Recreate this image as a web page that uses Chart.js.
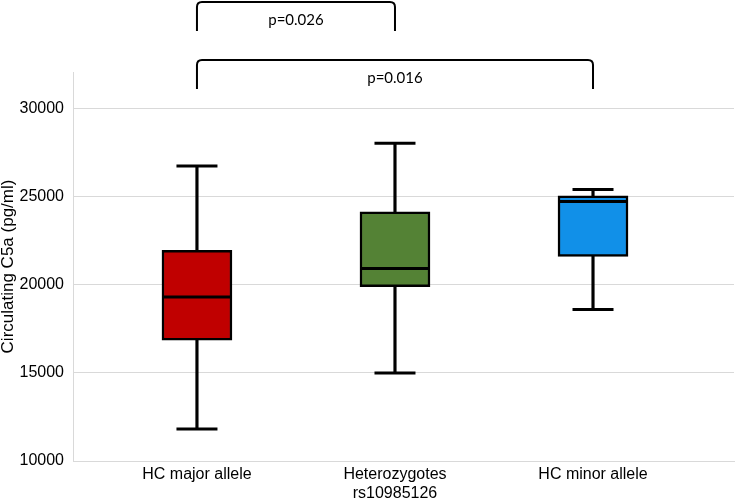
<!DOCTYPE html>
<html>
<head>
<meta charset="utf-8">
<script src="https://cdn.jsdelivr.net/npm/chart.js@4/dist/chart.umd.min.js"></script>
<style>
  body { margin: 0; background: #fff; }
</style>
</head>
<body>
<canvas id="myChart" width="735" height="502"></canvas>
<script>
const categories = ['HC major allele', ['Heterozygotes', 'rs10985126'], 'HC minor allele'];
const minVals = [11820, 15000, 18600];
const q1Vals = [16860, 19900, 21620];
const medianVals = [19320, 20940, 24740];
const q3Vals = [21970, 24160, 25070];
const maxVals = [26760, 28050, 25430];
const boxColors = ['#C00000', '#548235', '#1190E8'];
const yTicks = [10000, 15000, 20000, 25000, 30000];
// comparisons: [from, to, label]
const pairs = [[0, 1, 'p=0.026'], [0, 2, 'p=0.016']];

const font = "'Liberation Sans', Arial, sans-serif";

// brackets above the boxes
const bracketPlugin = {
  id: 'brackets',
  afterDraw(chart) {
    const ctx = chart.ctx;
    const xs = chart.scales.x;
    const top = chart.chartArea.top;
    const tops = [top - 70, top - 12];
    const legs = 29;
    const r = 5;
    ctx.save();
    ctx.strokeStyle = '#000';
    ctx.lineWidth = 2;
    ctx.font = "15px Lato, 'Open Sans', sans-serif";
    ctx.fillStyle = '#000';
    ctx.textAlign = 'center';
    ctx.textBaseline = 'middle';
    pairs.forEach((p, i) => {
      const x1 = xs.getPixelForValue(p[0]);
      const x2 = xs.getPixelForValue(p[1]);
      const y = tops[i];
      ctx.beginPath();
      ctx.moveTo(x1, y + legs);
      ctx.lineTo(x1, y + r);
      ctx.quadraticCurveTo(x1, y, x1 + r, y);
      ctx.lineTo(x2 - r, y);
      ctx.quadraticCurveTo(x2, y, x2, y + r);
      ctx.lineTo(x2, y + legs);
      ctx.stroke();
      ctx.fillText(p[2], (x1 + x2) / 2, y + 18);
    });
    ctx.restore();
  }
};

const ctx = document.getElementById('myChart');

new Chart(ctx, {
  type: 'bar',
  data: {
    datasets: [
      {
        type: 'scatter',
        order: 0,
        data: medianVals.map((v, i) => ({ x: i, y: v })),
        pointStyle: 'line',
        radius: 34,
        borderWidth: 3,
        borderColor: '#000'
      },
      {
        type: 'scatter',
        order: 1,
        data: minVals.map((v, i) => ({ x: i, y: v })).concat(maxVals.map((v, i) => ({ x: i, y: v }))),
        pointStyle: 'line',
        radius: 20.5,
        borderWidth: 3,
        borderColor: '#000'
      },
      {
        order: 2,
        grouped: false,
        data: q1Vals.map((v, i) => ({ x: i, y: [v, q3Vals[i]] })),
        backgroundColor: boxColors,
        borderColor: '#000',
        borderWidth: 2.5,
        borderSkipped: false,
        barThickness: 70
      },
      {
        order: 3,
        grouped: false,
        data: minVals.map((v, i) => ({ x: i, y: [v, maxVals[i]] })),
        backgroundColor: '#000',
        borderWidth: 0,
        barThickness: 2.5
      }
    ]
  },
  options: {
    responsive: false,
    animation: false,
    layout: { autoPadding: false, padding: { top: 72, right: 1, left: 0, bottom: 0 } },
    plugins: {
      legend: { display: false },
      tooltip: { enabled: false }
    },
    scales: {
      x: {
        type: 'linear',
        offset: false,
        min: -0.626,
        max: 2.712,
        afterBuildTicks: (scale) => { scale.ticks = categories.map((c, i) => ({ value: i })); },
        afterFit: (scale) => {
          scale.height = 41;
          scale.paddingLeft = 0;
          scale.paddingRight = 0;
        },
        ticks: {
          callback: (v) => categories[v],
          color: '#000',
          font: { family: font, size: 16 },
          padding: 4,
          maxRotation: 0,
          autoSkip: false
        },
        grid: { display: false, drawTicks: false },
        border: { color: '#d9d9d9', width: 1 }
      },
      y: {
        min: 10000,
        max: 32100,
        afterBuildTicks: (scale) => { scale.ticks = yTicks.map(v => ({ value: v })); },
        afterFit: (scale) => { scale.width = 73; },
        ticks: {
          callback: (v) => String(v),
          color: '#000',
          font: { family: font, size: 16 },
          padding: 9
        },
        grid: { color: '#d9d9d9', drawTicks: false },
        border: { color: '#d9d9d9', width: 1 },
        title: {
          display: true,
          text: 'Circulating C5a (pg/ml)',
          color: '#000',
          font: { family: font, size: 17, lineHeight: 1 },
          padding: 0
        }
      }
    }
  },
  plugins: [bracketPlugin]
});
</script>
</body>
</html>
